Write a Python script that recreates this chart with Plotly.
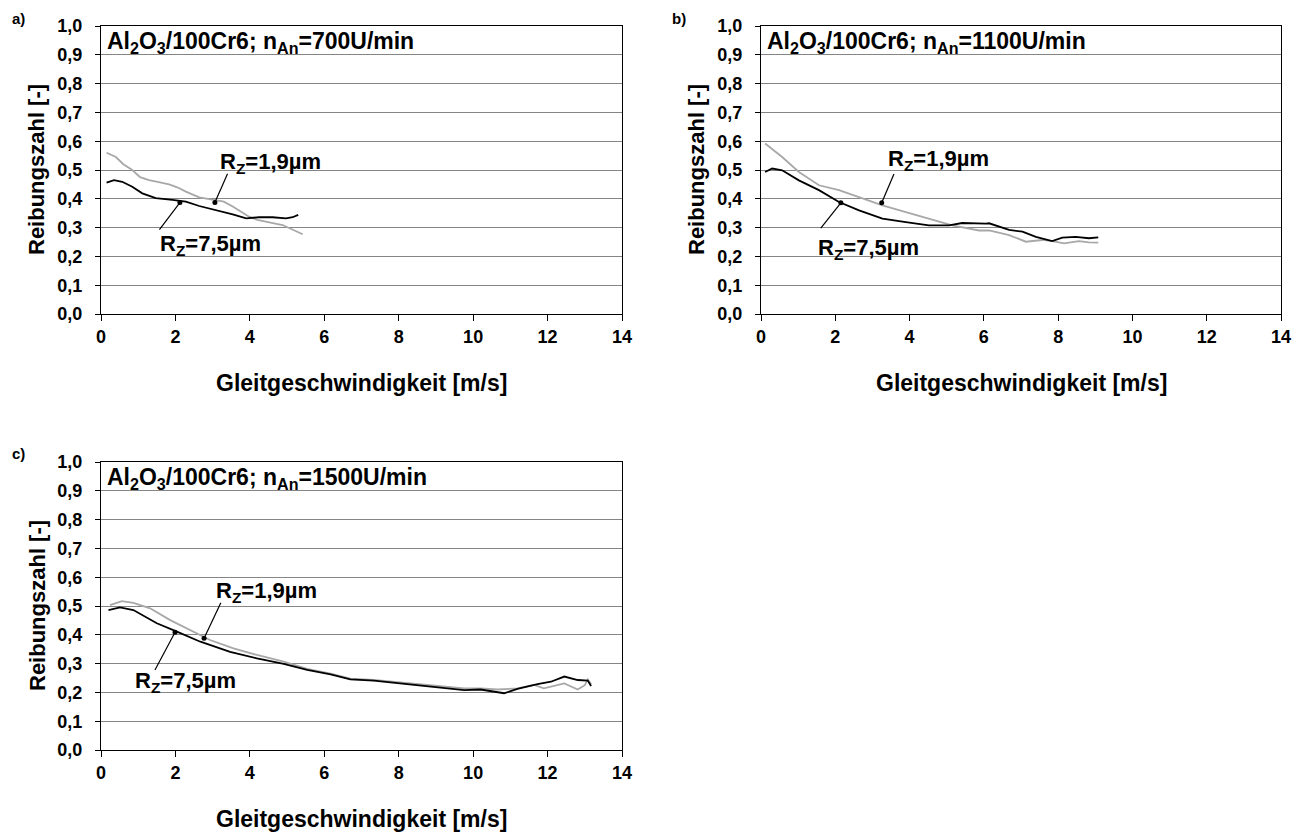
import plotly.graph_objects as go

# ---------------- data ----------------
panel_labels = ["a)", "b)", "c)"]
panel_titles = ["Al<sub>2</sub>O<sub>3</sub>/100Cr6; n<sub>An</sub>=700U/min",
                "Al<sub>2</sub>O<sub>3</sub>/100Cr6; n<sub>An</sub>=1100U/min",
                "Al<sub>2</sub>O<sub>3</sub>/100Cr6; n<sub>An</sub>=1500U/min"]
x_title = "Gleitgeschwindigkeit [m/s]"
y_title = "Reibungszahl [-]"
label_rz19 = "R<sub>Z</sub>=1,9µm"
label_rz75 = "R<sub>Z</sub>=7,5µm"

y_tick_vals = [0.0, 0.1, 0.2, 0.3, 0.4, 0.5, 0.6, 0.7, 0.8, 0.9, 1.0]
y_tick_labels = ["0,0", "0,1", "0,2", "0,3", "0,4", "0,5", "0,6", "0,7", "0,8", "0,9", "1,0"]
x_tick_vals = [0, 2, 4, 6, 8, 10, 12, 14]
x_tick_labels = ["0", "2", "4", "6", "8", "10", "12", "14"]

# panel a (700 U/min)
a_x_19 = [0.15, 0.4, 0.6, 0.84, 1.05, 1.29, 1.55, 1.83, 2.05, 2.28, 2.64, 3.09, 3.3, 3.54, 3.75,
          3.98, 4.2, 4.43, 4.65, 4.88, 5.15, 5.42]
a_y_19 = [0.56, 0.545, 0.52, 0.50, 0.475, 0.465, 0.458, 0.45, 0.44, 0.425, 0.405, 0.396, 0.39, 0.373,
          0.355, 0.338, 0.327, 0.32, 0.315, 0.309, 0.293, 0.277]
a_x_75 = [0.15, 0.35, 0.57, 0.84, 1.11, 1.47, 1.92, 2.28, 2.64, 3.09, 3.54, 3.9, 4.25, 4.61, 4.97, 5.15, 5.3]
a_y_75 = [0.456, 0.465, 0.459, 0.442, 0.419, 0.402, 0.396, 0.39, 0.375, 0.361, 0.346, 0.332, 0.336,
          0.336, 0.332, 0.336, 0.344]

# panel b (1100 U/min)
b_x_19 = [0.11, 0.57, 1.02, 1.56, 2.1, 2.64, 3.27, 3.9, 4.52, 5.15, 5.87, 6.14, 6.68, 7.13, 7.57,
          7.84, 8.16, 8.56, 8.83, 9.08]
b_y_19 = [0.592, 0.545, 0.493, 0.447, 0.43, 0.406, 0.377, 0.354, 0.331, 0.308, 0.29, 0.29, 0.274,
          0.251, 0.257, 0.253, 0.245, 0.253, 0.249, 0.248]
b_x_75 = [0.11, 0.3, 0.57, 1.02, 1.56, 2.1, 2.64, 3.27, 3.9, 4.52, 5.06, 5.42, 6.05, 6.14, 6.68, 7.04,
          7.4, 7.84, 8.11, 8.47, 8.83, 9.08]
b_y_75 = [0.493, 0.505, 0.499, 0.464, 0.43, 0.389, 0.36, 0.331, 0.319, 0.308, 0.308, 0.316, 0.314,
          0.315, 0.292, 0.286, 0.268, 0.253, 0.265, 0.268, 0.263, 0.266]

# panel c (1500 U/min)
c_x_19 = [0.24, 0.56, 0.87, 1.32, 1.86, 2.4, 2.93, 3.56, 4.19, 4.91, 5.54, 6.17, 6.7, 7.33, 7.96,
          8.86, 9.76, 10.2, 10.65, 11.19, 11.64, 11.9, 12.45, 12.81, 13.0, 13.08, 13.17]
c_y_19 = [0.503, 0.517, 0.511, 0.492, 0.451, 0.417, 0.382, 0.353, 0.33, 0.307, 0.282, 0.265, 0.248,
          0.243, 0.235, 0.225, 0.214, 0.214, 0.21, 0.214, 0.226, 0.214, 0.231, 0.21, 0.225, 0.245, 0.229]
c_x_75 = [0.2, 0.51, 0.87, 1.5, 2.04, 2.67, 3.47, 4.19, 4.91, 5.54, 6.17, 6.7, 7.33, 7.96, 8.86, 9.76,
          10.2, 10.65, 10.83, 11.19, 11.73, 12.09, 12.45, 12.81, 13.08, 13.17]
c_y_75 = [0.486, 0.495, 0.486, 0.44, 0.411, 0.376, 0.341, 0.318, 0.299, 0.278, 0.263, 0.245, 0.241,
          0.232, 0.22, 0.208, 0.21, 0.199, 0.197, 0.212, 0.229, 0.237, 0.255, 0.243, 0.241, 0.222]

# marker points on the curves, leader-line ends and label centres, per panel (data units)
marker19_x = [3.06, 3.25, 2.77]
marker19_y = [0.387, 0.386, 0.388]
marker75_x = [2.12, 2.15, 1.99]
marker75_y = [0.387, 0.386, 0.409]
leader19_x = [3.40, 3.58, 3.22]
leader19_y = [0.487, 0.486, 0.511]
leader75_x = [1.57, 1.61, 1.45]
leader75_y = [0.293, 0.298, 0.278]
text19_x = [4.56, 4.79, 4.45]
text19_y = [0.525, 0.535, 0.55]
text75_x = [2.93, 2.90, 2.26]
text75_y = [0.24, 0.225, 0.236]

series_x19 = [a_x_19, b_x_19, c_x_19]
series_y19 = [a_y_19, b_y_19, c_y_19]
series_x75 = [a_x_75, b_x_75, c_x_75]
series_y75 = [a_y_75, b_y_75, c_y_75]

# ---------------- layout ----------------
W, H = 1308, 836
OFF = 8  # default page body margin shifts the figure by this much
FONT = "Liberation Sans, Arial, sans-serif"
# plot area pixel boxes in page coordinates: (left, right, top, bottom)
boxes = [(101, 622, 26, 314), (761, 1281, 26, 314), (101, 622, 462, 750)]

def px(xp):
    return (xp - OFF) / W

def py(yp):
    return 1 - (yp - OFF) / H

fig = go.Figure()
layout = dict(
    width=W, height=H, margin=dict(l=0, r=0, t=0, b=0, pad=0),
    paper_bgcolor="white", plot_bgcolor="white", showlegend=False,
    font=dict(family=FONT, color="black"),
)
annotations = []
shapes = []

for i in range(3):
    n = "" if i == 0 else str(i + 1)
    xa, ya = "x" + n, "y" + n
    l, r, t, b = boxes[i]
    layout["xaxis" + n] = dict(
        domain=[px(l), px(r)], range=[0, 14], anchor=ya, automargin=False,
        tickvals=x_tick_vals, ticktext=x_tick_labels,
        ticks="outside", ticklen=6, tickcolor="black", ticklabelstandoff=0,
        showline=True, linecolor="black", linewidth=1, mirror=True,
        showgrid=False, zeroline=False, fixedrange=True,
        tickfont=dict(family=FONT, size=18, weight="bold", color="black"),
    )
    layout["yaxis" + n] = dict(
        domain=[py(b), py(t)], range=[0, 1], anchor=xa, automargin=False,
        tickvals=y_tick_vals, ticktext=y_tick_labels,
        ticks="outside", ticklen=5, tickcolor="black", ticklabelstandoff=9,
        showline=True, linecolor="black", linewidth=1, mirror=True,
        showgrid=True, gridcolor="#858585", gridwidth=1, zeroline=False, fixedrange=True,
        tickfont=dict(family=FONT, size=18, weight="bold", color="black"),
    )
    fig.add_trace(go.Scatter(x=series_x19[i], y=series_y19[i], mode="lines",
                             line=dict(color="#a8a8a8", width=1.8), xaxis=xa, yaxis=ya))
    fig.add_trace(go.Scatter(x=series_x75[i], y=series_y75[i], mode="lines",
                             line=dict(color="black", width=1.8), xaxis=xa, yaxis=ya))
    fig.add_trace(go.Scatter(x=[marker19_x[i], marker75_x[i]], y=[marker19_y[i], marker75_y[i]],
                             mode="markers", marker=dict(color="black", size=5),
                             xaxis=xa, yaxis=ya))
    # leader lines
    shapes.append(dict(type="line", xref=xa, yref=ya, x0=marker19_x[i], y0=marker19_y[i],
                       x1=leader19_x[i], y1=leader19_y[i], line=dict(color="black", width=1.2)))
    shapes.append(dict(type="line", xref=xa, yref=ya, x0=marker75_x[i], y0=marker75_y[i],
                       x1=leader75_x[i], y1=leader75_y[i], line=dict(color="black", width=1.2)))
    # Rz labels
    annotations.append(dict(xref=xa, yref=ya, x=text19_x[i], y=text19_y[i], text=label_rz19,
                            showarrow=False, font=dict(family=FONT, size=22, weight="bold")))
    annotations.append(dict(xref=xa, yref=ya, x=text75_x[i], y=text75_y[i], text=label_rz75,
                            showarrow=False, font=dict(family=FONT, size=22, weight="bold")))
    # panel title inside plot
    annotations.append(dict(xref="paper", yref="paper", x=px(l + 4), y=py(t + 16),
                            xanchor="left", yanchor="middle", text=panel_titles[i],
                            showarrow=False, font=dict(family=FONT, size=23, weight="bold")))
    # panel letter
    annotations.append(dict(xref="paper", yref="paper", x=px(l - 91), y=py(t - 8),
                            xanchor="left", yanchor="middle", text=panel_labels[i],
                            showarrow=False, font=dict(family=FONT, size=15, weight="bold")))
    # axis titles
    annotations.append(dict(xref="paper", yref="paper", x=px((l + r) / 2), y=py(b + 69),
                            xanchor="center", yanchor="middle", text=x_title,
                            showarrow=False, font=dict(family=FONT, size=23, weight="bold")))
    annotations.append(dict(xref="paper", yref="paper", x=px(l - 64), y=py((t + b) / 2),
                            xanchor="center", yanchor="middle", text=y_title, textangle=-90,
                            showarrow=False, font=dict(family=FONT, size=22, weight="bold")))

layout["annotations"] = annotations
layout["shapes"] = shapes
fig.update_layout(**layout)
fig.write_html("out.html")
